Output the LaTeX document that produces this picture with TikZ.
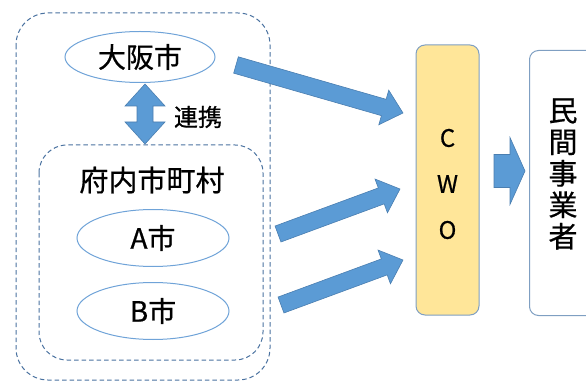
\documentclass[tikz,border=0pt]{standalone}
\usepackage{fontspec}
\setmainfont[FakeBold=0.6]{Noto Sans CJK JP}
\usetikzlibrary{calc,shapes.geometric}
\definecolor{arrfill}{HTML}{5B9BD5}
\definecolor{arrdraw}{HTML}{4A7EB0}
\definecolor{dashcol}{HTML}{4A72A0}
\definecolor{ellcol}{HTML}{6FA3D8}
\definecolor{cwofill}{HTML}{FFE699}
\definecolor{boxcol}{HTML}{7F9FC2}
\tikzset{
  blockarr/.style={fill=arrfill,draw=arrdraw,line width=0.6pt,line join=miter},
  dashbox/.style={draw=dashcol,dashed,dash pattern=on 4.5pt off 3pt,line width=1pt},
  city/.style={ellipse,draw=ellcol,line width=1pt,fill=white,inner sep=0pt},
  solidbox/.style={draw=boxcol,line width=1pt,rounded corners=9pt}
}
\newcommand\blockarrow[5]{%
  \coordinate (ba-n) at ($(#2)!#5!(#1)$);
  \draw[blockarr] ($(#1)!#3!90:(#2)$) -- ($(ba-n)!#3!90:(#2)$) -- ($(ba-n)!#4!90:(#2)$)
    -- (#2) -- ($(ba-n)!#4!-90:(#2)$) -- ($(ba-n)!#3!-90:(#2)$) -- ($(#1)!#3!-90:(#2)$) -- cycle;
}
\begin{document}
\begin{tikzpicture}[x=1pt,y=-1pt]
\useasboundingbox (0,0) rectangle (586,382);
\clip (0,0) rectangle (586,382);
% dashed groups
\draw[dashbox,rounded corners=32pt] (16,13) rectangle (270,380);
\draw[dashbox,rounded corners=28pt] (39,145) rectangle (263,360);
% cities
\node[city,minimum width=150pt,minimum height=51pt,font=\fontsize{28}{30}\selectfont] (osaka) at (140,57) {大阪市};
\node[font=\fontsize{29}{30}\selectfont] (fu) at (152,180) {府内市町村};
\node[city,minimum width=152pt,minimum height=57pt,font=\fontsize{28}{30}\selectfont] (acity) at (153,238) {A市};
\node[city,minimum width=152pt,minimum height=57pt,font=\fontsize{28}{30}\selectfont] (bcity) at (153,311) {B市};
% link arrow
\coordinate (lt) at (145,84);
\coordinate (lb) at (145,144);
\draw[blockarr] (lt) -- ++(20,22) -- ++(-12,0) -- ++(0,16) -- ++(12,0) -- (lb) -- ++(-20,-22) -- ++(12,0) -- ++(0,-16) -- ++(-12,0) -- cycle;
\node[font=\fontsize{24}{26}\selectfont] (renkei) at (198,117) {連携};
% CWO
\node[solidbox,fill=cwofill,minimum width=63pt,minimum height=270pt,inner sep=0pt] (cwo) at (447.5,180) {};
\node[align=center,font=\fontsize{24}{46}\selectfont] (cwotext) at (447.5,184) {C\\W\\O};
% private operators
\node[solidbox,fill=white,minimum width=72pt,minimum height=265pt,inner sep=0pt,anchor=north west] (min) at (529,50) {};
\node[align=center,font=\fontsize{29}{31.5}\selectfont] (mintext) at (563,174) {民\\間\\事\\業\\者};
% block arrows
\coordinate (a1s) at (236,65);  \coordinate (a1e) at (403,113);
\coordinate (a2s) at (278,234); \coordinate (a2e) at (400,189);
\coordinate (a3s) at (281,305); \coordinate (a3e) at (403,260);
\coordinate (a4s) at (494,171); \coordinate (a4e) at (525,171);
\blockarrow{a1s}{a1e}{8.5pt}{18pt}{20pt}
\blockarrow{a2s}{a2e}{8.5pt}{18pt}{20pt}
\blockarrow{a3s}{a3e}{8.5pt}{18pt}{20pt}
\blockarrow{a4s}{a4e}{16.5pt}{33.5pt}{15pt}
\end{tikzpicture}
\end{document}
